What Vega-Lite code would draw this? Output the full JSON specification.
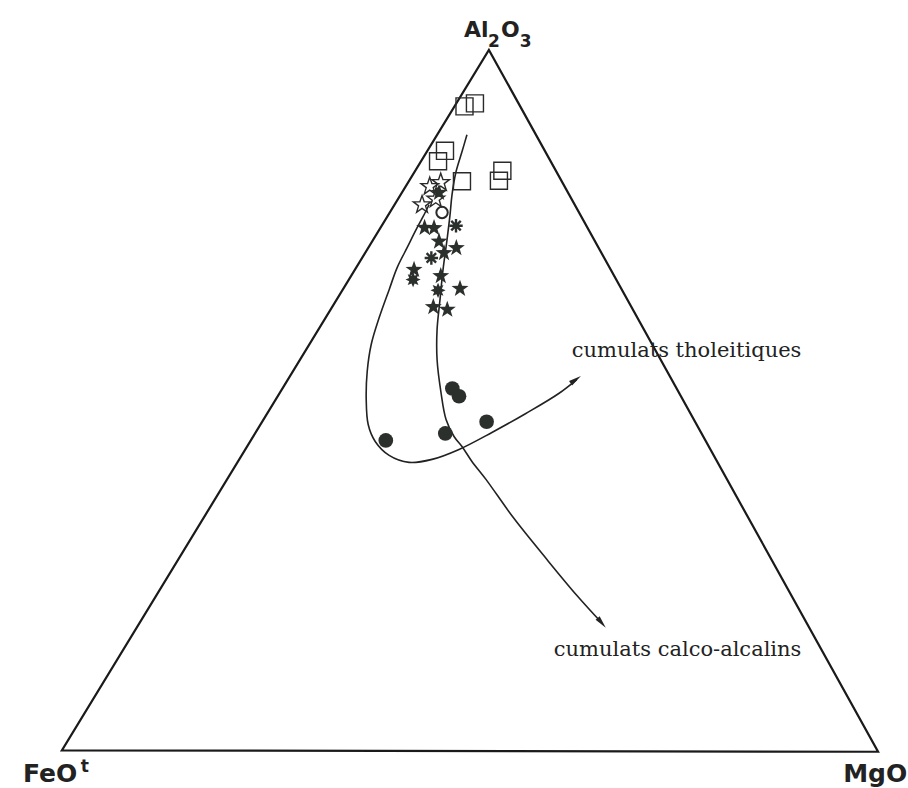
{
  "$schema": "https://vega.github.io/schema/vega-lite/v6.json",
  "width": 908,
  "height": 788,
  "padding": 0,
  "autosize": {"type": "fit", "contains": "padding"},
  "background": "white",
  "config": {"view": {"stroke": null}},
  "datasets": {
    "edges": [
      {"i": 0, "x": 52.32, "y": 100},
      {"i": 1, "x": 100, "y": -0.1},
      {"i": 2, "x": 0, "y": 0.1},
      {"i": 3, "x": 52.32, "y": 100},
      {"i": 4, "x": 57.09, "y": 89.99}
    ],
    "curves": [
      {"curve": "tho", "i": 0, "x": 44.99, "y": 77.92},
      {"curve": "tho", "i": 1, "x": 44.25, "y": 76.21},
      {"curve": "tho", "i": 2, "x": 43.40, "y": 74.36},
      {"curve": "tho", "i": 3, "x": 42.30, "y": 71.79},
      {"curve": "tho", "i": 4, "x": 41.08, "y": 68.95},
      {"curve": "tho", "i": 5, "x": 40.10, "y": 65.81},
      {"curve": "tho", "i": 6, "x": 38.88, "y": 61.82},
      {"curve": "tho", "i": 7, "x": 37.90, "y": 57.98},
      {"curve": "tho", "i": 8, "x": 37.41, "y": 54.13},
      {"curve": "tho", "i": 9, "x": 37.29, "y": 50.14},
      {"curve": "tho", "i": 10, "x": 37.53, "y": 46.58},
      {"curve": "tho", "i": 11, "x": 38.39, "y": 44.16},
      {"curve": "tho", "i": 12, "x": 40.10, "y": 42.17},
      {"curve": "tho", "i": 13, "x": 42.54, "y": 41.17},
      {"curve": "tho", "i": 14, "x": 45.35, "y": 41.60},
      {"curve": "tho", "i": 15, "x": 48.66, "y": 43.02},
      {"curve": "tho", "i": 16, "x": 52.69, "y": 45.44},
      {"curve": "tho", "i": 17, "x": 56.85, "y": 48.15},
      {"curve": "tho", "i": 18, "x": 60.88, "y": 51.00},
      {"curve": "tho", "i": 19, "x": 63.08, "y": 52.99},
      {"curve": "calc", "i": 0, "x": 49.63, "y": 87.89},
      {"curve": "calc", "i": 1, "x": 49.02, "y": 85.47},
      {"curve": "calc", "i": 2, "x": 48.29, "y": 82.62},
      {"curve": "calc", "i": 3, "x": 47.80, "y": 79.34},
      {"curve": "calc", "i": 4, "x": 47.56, "y": 76.50},
      {"curve": "calc", "i": 5, "x": 47.19, "y": 72.93},
      {"curve": "calc", "i": 6, "x": 46.70, "y": 68.66},
      {"curve": "calc", "i": 7, "x": 46.33, "y": 64.39},
      {"curve": "calc", "i": 8, "x": 45.97, "y": 60.11},
      {"curve": "calc", "i": 9, "x": 45.97, "y": 55.84},
      {"curve": "calc", "i": 10, "x": 46.45, "y": 51.14},
      {"curve": "calc", "i": 11, "x": 47.07, "y": 47.29},
      {"curve": "calc", "i": 12, "x": 48.05, "y": 44.87},
      {"curve": "calc", "i": 13, "x": 49.02, "y": 43.45},
      {"curve": "calc", "i": 14, "x": 50.24, "y": 41.31},
      {"curve": "calc", "i": 15, "x": 51.96, "y": 38.75},
      {"curve": "calc", "i": 16, "x": 55.38, "y": 33.19},
      {"curve": "calc", "i": 17, "x": 59.41, "y": 27.35},
      {"curve": "calc", "i": 18, "x": 63.08, "y": 22.22},
      {"curve": "calc", "i": 19, "x": 66.14, "y": 18.29}
    ],
    "arrows": [
      {"curve": "tho", "x": 62.96, "y": 52.98},
      {"curve": "calc", "x": 66.14, "y": 18.29}
    ],
    "points": [
      {"type": "square", "x": 49.33, "y": 91.95},
      {"type": "square", "x": 50.61, "y": 92.38},
      {"type": "square", "x": 46.94, "y": 85.61},
      {"type": "square", "x": 46.09, "y": 84.12},
      {"type": "square", "x": 49.02, "y": 81.27},
      {"type": "square", "x": 53.97, "y": 82.76},
      {"type": "square", "x": 53.55, "y": 81.34},
      {"type": "openstar", "x": 45.07, "y": 80.53},
      {"type": "openstar", "x": 46.42, "y": 81.10},
      {"type": "openstar", "x": 44.13, "y": 77.92},
      {"type": "openstar", "x": 45.81, "y": 78.73},
      {"type": "star", "x": 46.21, "y": 79.63},
      {"type": "star", "x": 44.44, "y": 74.64},
      {"type": "star", "x": 45.60, "y": 74.60},
      {"type": "star", "x": 46.21, "y": 72.69},
      {"type": "star", "x": 48.33, "y": 71.75},
      {"type": "star", "x": 46.82, "y": 71.04},
      {"type": "star", "x": 43.15, "y": 68.66},
      {"type": "star", "x": 46.42, "y": 67.76},
      {"type": "star", "x": 48.78, "y": 65.95},
      {"type": "star", "x": 45.51, "y": 63.35},
      {"type": "star", "x": 47.22, "y": 62.96},
      {"type": "asterisk", "x": 48.29, "y": 74.93},
      {"type": "asterisk", "x": 45.27, "y": 70.33},
      {"type": "sun", "x": 46.09, "y": 65.71},
      {"type": "sun", "x": 43.03, "y": 67.24},
      {"type": "circle", "x": 47.84, "y": 51.71},
      {"type": "circle", "x": 48.66, "y": 50.61},
      {"type": "circle", "x": 52.04, "y": 46.97},
      {"type": "circle", "x": 46.98, "y": 45.30},
      {"type": "circle", "x": 39.69, "y": 44.30},
      {"type": "ring", "x": 46.58, "y": 76.82}
    ],
    "labels": [
      {"role": "apex", "text": "Al", "x": 49.27, "y": 101.85},
      {"role": "apexsub", "text": "2", "x": 52.20, "y": 100.43},
      {"role": "apex", "text": "O", "x": 53.79, "y": 101.85},
      {"role": "apexsub", "text": "3", "x": 56.11, "y": 100.43},
      {"role": "base", "text": "FeO", "x": -4.77, "y": -4.42},
      {"role": "basesup", "text": "t", "x": 2.32, "y": -2.99},
      {"role": "base", "text": "MgO", "x": 95.72, "y": -4.42},
      {"role": "note", "text": "cumulats tholeitiques", "x": 62.47, "y": 56.27},
      {"role": "note", "text": "cumulats calco-alcalins", "x": 60.27, "y": 13.53}
    ]
  },
  "encoding": {
    "x": {"field": "x", "type": "quantitative", "axis": null, "scale": {"domain": [-7.5795, 103.423], "nice": false, "zero": false}},
    "y": {"field": "y", "type": "quantitative", "axis": null, "scale": {"domain": [-5.1282, 107.1225], "nice": false, "zero": false}}
  },
  "layer": [
    {
      "data": {"name": "edges"},
      "mark": {"type": "line", "color": "#1a1a1a", "strokeWidth": 2.2, "strokeJoin": "miter"},
      "encoding": {"order": {"field": "i", "type": "quantitative"}}
    },
    {
      "data": {"name": "curves"},
      "mark": {"type": "line", "color": "#222222", "strokeWidth": 1.6, "interpolate": "catmull-rom"},
      "encoding": {"detail": {"field": "curve"}, "order": {"field": "i", "type": "quantitative"}}
    },
    {
      "data": {"name": "arrows"},
      "transform": [{"filter": "datum.curve === 'tho'"}],
      "mark": {"type": "point", "shape": "M0,-1L0.42,1L-0.42,1Z", "filled": true, "color": "#222222", "opacity": 1, "size": 160, "angle": 55}
    },
    {
      "data": {"name": "arrows"},
      "transform": [{"filter": "datum.curve === 'calc'"}],
      "mark": {"type": "point", "shape": "M0,-1L0.42,1L-0.42,1Z", "filled": true, "color": "#222222", "opacity": 1, "size": 160, "angle": 140}
    },
    {
      "data": {"name": "points"},
      "transform": [{"filter": "datum.type === 'square'"}],
      "mark": {"type": "point", "shape": "square", "filled": false, "color": "#2a2a2a", "opacity": 1, "size": 290, "strokeWidth": 1.4}
    },
    {
      "data": {"name": "points"},
      "transform": [{"filter": "datum.type === 'openstar'"}],
      "mark": {"type": "point", "shape": "M0,-1L0.235,-0.324L0.951,-0.309L0.38,0.124L0.588,0.809L0,0.4L-0.588,0.809L-0.38,0.124L-0.951,-0.309L-0.235,-0.324Z", "filled": false, "color": "#2a2a2a", "opacity": 1, "size": 340, "strokeWidth": 1.4}
    },
    {
      "data": {"name": "points"},
      "transform": [{"filter": "datum.type === 'star'"}],
      "mark": {"type": "point", "shape": "M0,-1L0.235,-0.324L0.951,-0.309L0.38,0.124L0.588,0.809L0,0.4L-0.588,0.809L-0.38,0.124L-0.951,-0.309L-0.235,-0.324Z", "filled": true, "color": "#2b302d", "opacity": 1, "size": 320}
    },
    {
      "data": {"name": "points"},
      "transform": [{"filter": "datum.type === 'asterisk'"}],
      "mark": {"type": "point", "shape": "M0,-1L0,1M-1,0L1,0M-0.707,-0.707L0.707,0.707M-0.707,0.707L0.707,-0.707", "filled": false, "color": "#2b302d", "opacity": 1, "size": 180, "strokeWidth": 2.4}
    },
    {
      "data": {"name": "points"},
      "transform": [{"filter": "datum.type === 'sun'"}],
      "mark": {"type": "point", "shape": "M0,-1L0.21,-0.508L0.707,-0.707L0.508,-0.21L1,0L0.508,0.21L0.707,0.707L0.21,0.508L0,1L-0.21,0.508L-0.707,0.707L-0.508,0.21L-1,0L-0.508,-0.21L-0.707,-0.707L-0.21,-0.508Z", "filled": true, "color": "#2b302d", "opacity": 1, "size": 230}
    },
    {
      "data": {"name": "points"},
      "transform": [{"filter": "datum.type === 'circle'"}],
      "mark": {"type": "point", "shape": "circle", "filled": true, "color": "#2b302d", "opacity": 1, "size": 215}
    },
    {
      "data": {"name": "points"},
      "transform": [{"filter": "datum.type === 'ring'"}],
      "mark": {"type": "point", "shape": "circle", "filled": false, "color": "#2a2a2a", "opacity": 1, "size": 130, "strokeWidth": 2}
    },
    {
      "data": {"name": "labels"},
      "transform": [{"filter": "datum.role === 'apex'"}],
      "mark": {"type": "text", "font": "DejaVu Sans", "fontWeight": "bold", "fontSize": 22, "align": "left", "baseline": "alphabetic", "color": "#222222"},
      "encoding": {"text": {"field": "text"}}
    },
    {
      "data": {"name": "labels"},
      "transform": [{"filter": "datum.role === 'apexsub'"}],
      "mark": {"type": "text", "font": "DejaVu Sans", "fontWeight": "bold", "fontSize": 17, "align": "left", "baseline": "alphabetic", "color": "#222222"},
      "encoding": {"text": {"field": "text"}}
    },
    {
      "data": {"name": "labels"},
      "transform": [{"filter": "datum.role === 'base'"}],
      "mark": {"type": "text", "font": "DejaVu Sans", "fontWeight": "bold", "fontSize": 25, "align": "left", "baseline": "alphabetic", "color": "#222222"},
      "encoding": {"text": {"field": "text"}}
    },
    {
      "data": {"name": "labels"},
      "transform": [{"filter": "datum.role === 'basesup'"}],
      "mark": {"type": "text", "font": "DejaVu Sans", "fontWeight": "bold", "fontSize": 17, "align": "left", "baseline": "alphabetic", "color": "#222222"},
      "encoding": {"text": {"field": "text"}}
    },
    {
      "data": {"name": "labels"},
      "transform": [{"filter": "datum.role === 'note'"}],
      "mark": {"type": "text", "font": "DejaVu Serif", "fontSize": 21, "align": "left", "baseline": "alphabetic", "color": "#222222"},
      "encoding": {"text": {"field": "text"}}
    }
  ]
}
